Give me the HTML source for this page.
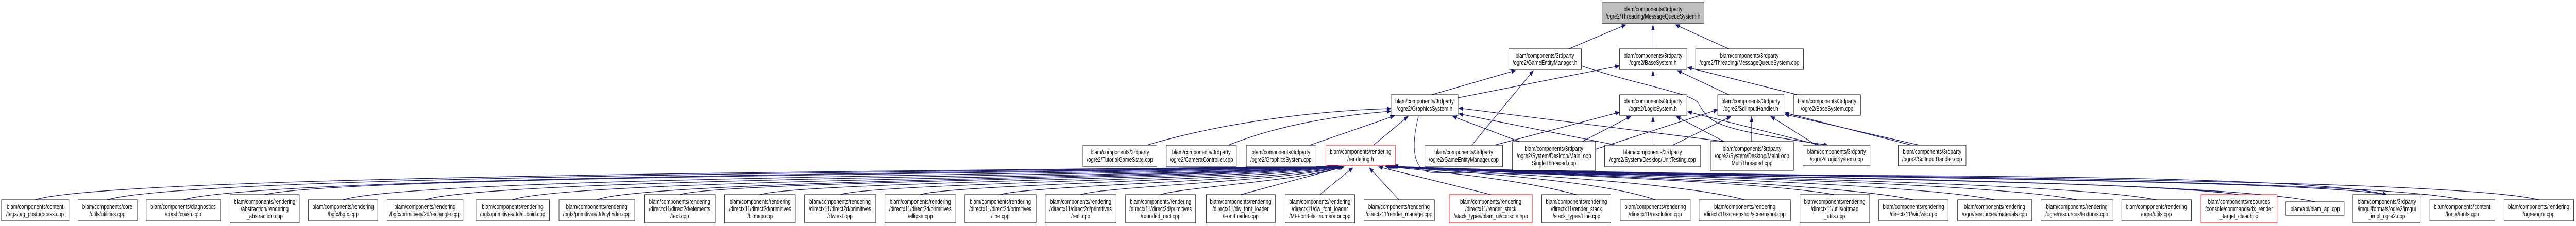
<!DOCTYPE html>
<html><head><meta charset="utf-8"><style>
html,body{margin:0;padding:0;background:#fff;width:100%;height:100%;overflow:hidden;}
svg{display:block;position:fixed;left:0;top:0;width:100vw;height:100vh;}
text{font-family:"Liberation Sans",sans-serif;font-size:13px;fill:#000;text-anchor:middle;}
.b{fill:#fff;stroke:#000;stroke-width:1;}
.e{fill:none;stroke:#191970;stroke-width:1.3;marker-end:url(#a);}
</style></head><body>
<svg viewBox="0 0 6765 439" preserveAspectRatio="none" xmlns="http://www.w3.org/2000/svg">
<defs><marker id="a" markerWidth="12" markerHeight="9" refX="11" refY="4.5" orient="auto" markerUnits="userSpaceOnUse"><path d="M0,0L12,4.5L0,9z" fill="#191970"/></marker></defs>

<path class="e" d="M4120,95 L4270,48"/>
<path class="e" d="M4341,95 L4341,48"/>
<path class="e" d="M4540,95 L4400,48"/>
<path class="e" d="M3760,184 L3980,137"/>
<path class="e" d="M3829,190 L4253,128"/>
<path class="e" d="M4341,184 L4341,137"/>
<path class="e" d="M4540,184 L4405,137"/>
<path class="e" d="M4720,184 L4432,131"/>
<path class="e" d="M3865,282 L4027,137"/>
<path class="e" d="M4153,128 C4300,165 4440,180 4460,200 C4490,240 4500,250 4800,282"/>
<path class="e" d="M3012,282 C3200,240 3450,215 3653,211"/>
<path class="e" d="M3226,282 C3350,245 3500,225 3653,216"/>
<path class="e" d="M3440,282 L3662,225"/>
<path class="e" d="M3607,282 L3698,226"/>
<path class="e" d="M3990,275 L3815,226"/>
<path class="e" d="M4245,282 L3831,221"/>
<path class="e" d="M4530,275 L3831,210"/>
<path class="e" d="M3725,226 C3700,300 3720,333 3760,335 C4500,345 6000,330 6268,378"/>
<path class="e" d="M4155,275 L4283,226"/>
<path class="e" d="M3925,282 L4253,218"/>
<path class="e" d="M4341,282 L4341,226"/>
<path class="e" d="M4528,275 L4402,226"/>
<path class="e" d="M4780,282 L4432,217"/>
<path class="e" d="M4190,290 L4511,213"/>
<path class="e" d="M4393,282 L4546,226"/>
<path class="e" d="M4600,275 L4600,226"/>
<path class="e" d="M4770,282 L4650,226"/>
<path class="e" d="M5040,282 L4687,222"/>
<path class="e" d="M5020,282 L4687,219"/>

<path class="e" d="M92,388 C300,340 2500,332 3497,323"/>
<path class="e" d="M282,388 C500,340 2600,334 3499,323"/>
<path class="e" d="M481,388 C700,342 2700,336 3501,323"/>
<path class="e" d="M695,378 C900,342 2800,338 3503,323"/>
<path class="e" d="M901,388 C1100,344 2900,340 3505,323"/>
<path class="e" d="M1116,388 C1300,346 3000,342 3507,323"/>
<path class="e" d="M1346,388 C1500,348 3100,344 3509,323"/>
<path class="e" d="M1567,388 C1700,350 3150,345 3511,323"/>
<path class="e" d="M1785,378 C1900,352 3200,346 3513,323"/>
<path class="e" d="M1996,378 C2100,354 3250,347 3515,323"/>
<path class="e" d="M2206,378 C2300,356 3300,348 3517,323"/>
<path class="e" d="M2417,378 C2500,358 3350,349 3519,323"/>
<path class="e" d="M2627,378 C2700,360 3400,350 3521,323"/>
<path class="e" d="M2838,378 C2900,362 3420,350 3523,323"/>
<path class="e" d="M3048,378 C3100,364 3440,350 3525,323"/>
<path class="e" d="M3258,378 L3530,324"/>
<path class="e" d="M3466,378 L3553,326"/>
<path class="e" d="M3674,388 L3596,326"/>
<path class="e" d="M3915,378 L3620,324"/>
<path class="e" d="M4140,378 C4000,350 3800,335 3637,323"/>
<path class="e" d="M4347,388 C4200,350 3850,335 3639,323"/>
<path class="e" d="M4582,388 C4400,352 3900,336 3641,323"/>
<path class="e" d="M4818,378 C4600,350 3950,337 3643,323"/>
<path class="e" d="M5025,388 C4800,352 4000,338 3645,323"/>
<path class="e" d="M5238,388 C5000,352 4050,339 3647,323"/>
<path class="e" d="M5454,388 C5200,350 4100,340 3649,323"/>
<path class="e" d="M5663,388 C5400,350 4150,341 3651,323"/>
<path class="e" d="M5880,378 C5600,348 4200,342 3653,323"/>
<path class="e" d="M6080,392 C5800,346 4250,343 3655,323"/>
<path class="e" d="M6268,378 C6000,344 4300,344 3657,323"/>
<path class="e" d="M6466,388 C6200,342 4350,345 3659,323"/>
<path class="e" d="M6667,388 C6400,340 4400,346 3661,323"/>

<rect x="4207" y="5" width="268" height="41" fill="#bfbfbf" stroke="#000"/>
<text x="4341" y="22">blam/components/3rdparty</text><text x="4341" y="36">/ogre2/Threading/MessageQueueSystem.h</text>

<rect class="b" x="3962" y="95" width="191" height="40"/><text x="4057" y="112">blam/components/3rdparty</text><text x="4057" y="126">/ogre2/GameEntityManager.h</text>
<rect class="b" x="4253" y="95" width="177" height="40"/><text x="4341" y="112">blam/components/3rdparty</text><text x="4341" y="126">/ogre2/BaseSystem.h</text>
<rect class="b" x="4453" y="95" width="283" height="40"/><text x="4594" y="112">blam/components/3rdparty</text><text x="4594" y="126">/ogre2/Threading/MessageQueueSystem.cpp</text>

<rect class="b" x="3653" y="184" width="176" height="40"/><text x="3741" y="201">blam/components/3rdparty</text><text x="3741" y="215">/ogre2/GraphicsSystem.h</text>
<rect class="b" x="4253" y="184" width="177" height="40"/><text x="4341" y="201">blam/components/3rdparty</text><text x="4341" y="215">/ogre2/LogicSystem.h</text>
<rect class="b" x="4511" y="184" width="174" height="40"/><text x="4598" y="201">blam/components/3rdparty</text><text x="4598" y="215">/ogre2/SdlInputHandler.h</text>
<rect class="b" x="4710" y="184" width="176" height="40"/><text x="4798" y="201">blam/components/3rdparty</text><text x="4798" y="215">/ogre2/BaseSystem.cpp</text>

<rect class="b" x="2844" y="282" width="194" height="42"/><text x="2941" y="300">blam/components/3rdparty</text><text x="2941" y="314">/ogre2/TutorialGameState.cpp</text>
<rect class="b" x="3063" y="282" width="184" height="42"/><text x="3155" y="300">blam/components/3rdparty</text><text x="3155" y="314">/ogre2/CameraController.cpp</text>
<rect class="b" x="3273" y="282" width="183" height="42"/><text x="3364" y="300">blam/components/3rdparty</text><text x="3364" y="314">/ogre2/GraphicsSystem.cpp</text>
<rect x="3482" y="282" width="183" height="39" fill="#fff" stroke="#ff0000"/><text x="3573" y="299">blam/components/rendering</text><text x="3573" y="313">/rendering.h</text>
<rect class="b" x="3742" y="282" width="204" height="42"/><text x="3844" y="300">blam/components/3rdparty</text><text x="3844" y="314">/ogre2/GameEntityManager.cpp</text>
<rect class="b" x="3972" y="275" width="218" height="56"/><text x="4081" y="293">blam/components/3rdparty</text><text x="4081" y="307">/ogre2/System/Desktop/MainLoop</text><text x="4081" y="321">SingleThreaded.cpp</text>
<rect class="b" x="4214" y="282" width="252" height="42"/><text x="4340" y="300">blam/components/3rdparty</text><text x="4340" y="314">/ogre2/System/Desktop/UnitTesting.cpp</text>
<rect class="b" x="4492" y="275" width="218" height="56"/><text x="4601" y="293">blam/components/3rdparty</text><text x="4601" y="307">/ogre2/System/Desktop/MainLoop</text><text x="4601" y="321">MultiThreaded.cpp</text>
<rect class="b" x="4735" y="282" width="176" height="40"/><text x="4823" y="299">blam/components/3rdparty</text><text x="4823" y="313">/ogre2/LogicSystem.cpp</text>
<rect class="b" x="4985" y="282" width="178" height="40"/><text x="5074" y="299">blam/components/3rdparty</text><text x="5074" y="313">/ogre2/SdlInputHandler.cpp</text>

<rect class="b" x="4" y="388" width="177" height="41"/><text x="92" y="406">blam/components/content</text><text x="92" y="420">/tags/tag_postprocess.cpp</text>
<rect class="b" x="205" y="388" width="155" height="41"/><text x="282" y="406">blam/components/core</text><text x="282" y="420">/utils/utilities.cpp</text>
<rect class="b" x="384" y="388" width="195" height="41"/><text x="481" y="406">blam/components/diagnostics</text><text x="481" y="420">/crash/crash.cpp</text>
<rect class="b" x="604" y="378" width="182" height="55"/><text x="695" y="396">blam/components/rendering</text><text x="695" y="410">/abstraction/rendering</text><text x="695" y="424">_abstraction.cpp</text>
<rect class="b" x="810" y="388" width="182" height="41"/><text x="901" y="406">blam/components/rendering</text><text x="901" y="420">/bgfx/bgfx.cpp</text>
<rect class="b" x="1017" y="388" width="199" height="41"/><text x="1116" y="406">blam/components/rendering</text><text x="1116" y="420">/bgfx/primitives/2d/rectangle.cpp</text>
<rect class="b" x="1250" y="388" width="193" height="41"/><text x="1346" y="406">blam/components/rendering</text><text x="1346" y="420">/bgfx/primitives/3d/cuboid.cpp</text>
<rect class="b" x="1468" y="388" width="199" height="41"/><text x="1567" y="406">blam/components/rendering</text><text x="1567" y="420">/bgfx/primitives/3d/cylinder.cpp</text>
<rect class="b" x="1692" y="378" width="186" height="55"/><text x="1785" y="396">blam/components/rendering</text><text x="1785" y="410">/directx11/direct2d/elements</text><text x="1785" y="424">/text.cpp</text>
<rect class="b" x="1903" y="378" width="186" height="55"/><text x="1996" y="396">blam/components/rendering</text><text x="1996" y="410">/directx11/direct2d/primitives</text><text x="1996" y="424">/bitmap.cpp</text>
<rect class="b" x="2113" y="378" width="187" height="55"/><text x="2206" y="396">blam/components/rendering</text><text x="2206" y="410">/directx11/direct2d/primitives</text><text x="2206" y="424">/dwtext.cpp</text>
<rect class="b" x="2324" y="378" width="186" height="55"/><text x="2417" y="396">blam/components/rendering</text><text x="2417" y="410">/directx11/direct2d/primitives</text><text x="2417" y="424">/ellipse.cpp</text>
<rect class="b" x="2534" y="378" width="187" height="55"/><text x="2627" y="396">blam/components/rendering</text><text x="2627" y="410">/directx11/direct2d/primitives</text><text x="2627" y="424">/line.cpp</text>
<rect class="b" x="2745" y="378" width="186" height="55"/><text x="2838" y="396">blam/components/rendering</text><text x="2838" y="410">/directx11/direct2d/primitives</text><text x="2838" y="424">/rect.cpp</text>
<rect class="b" x="2956" y="378" width="184" height="55"/><text x="3048" y="396">blam/components/rendering</text><text x="3048" y="410">/directx11/direct2d/primitives</text><text x="3048" y="424">/rounded_rect.cpp</text>
<rect class="b" x="3168" y="378" width="181" height="55"/><text x="3258" y="396">blam/components/rendering</text><text x="3258" y="410">/directx11/dw_font_loader</text><text x="3258" y="424">/FontLoader.cpp</text>
<rect class="b" x="3375" y="378" width="183" height="55"/><text x="3466" y="396">blam/components/rendering</text><text x="3466" y="410">/directx11/dw_font_loader</text><text x="3466" y="424">/MFFontFileEnumerator.cpp</text>
<rect class="b" x="3582" y="388" width="185" height="41"/><text x="3674" y="406">blam/components/rendering</text><text x="3674" y="420">/directx11/render_manage.cpp</text>
<rect x="3806" y="378" width="218" height="55" fill="#fff" stroke="#ff0000"/><text x="3915" y="396">blam/components/rendering</text><text x="3915" y="410">/directx11/render_stack</text><text x="3915" y="424">/stack_types/blam_ui/console.hpp</text>
<rect class="b" x="4049" y="378" width="181" height="55"/><text x="4140" y="396">blam/components/rendering</text><text x="4140" y="410">/directx11/render_stack</text><text x="4140" y="424">/stack_types/Line.cpp</text>
<rect class="b" x="4255" y="388" width="184" height="41"/><text x="4347" y="406">blam/components/rendering</text><text x="4347" y="420">/directx11/resolution.cpp</text>
<rect class="b" x="4462" y="388" width="240" height="41"/><text x="4582" y="406">blam/components/rendering</text><text x="4582" y="420">/directx11/screenshot/screenshot.cpp</text>
<rect class="b" x="4727" y="378" width="183" height="55"/><text x="4818" y="396">blam/components/rendering</text><text x="4818" y="410">/directx11/utils/bitmap</text><text x="4818" y="424">_utils.cpp</text>
<rect class="b" x="4934" y="388" width="182" height="41"/><text x="5025" y="406">blam/components/rendering</text><text x="5025" y="420">/directx11/wic/wic.cpp</text>
<rect class="b" x="5141" y="388" width="195" height="41"/><text x="5238" y="406">blam/components/rendering</text><text x="5238" y="420">/ogre/resources/materials.cpp</text>
<rect class="b" x="5360" y="388" width="189" height="41"/><text x="5454" y="406">blam/components/rendering</text><text x="5454" y="420">/ogre/resources/textures.cpp</text>
<rect class="b" x="5572" y="388" width="183" height="41"/><text x="5663" y="406">blam/components/rendering</text><text x="5663" y="420">/ogre/utils.cpp</text>
<rect x="5780" y="378" width="200" height="55" fill="#fff" stroke="#ff0000"/><text x="5880" y="396">blam/components/resources</text><text x="5880" y="410">/console/commands/dx_render</text><text x="5880" y="424">_target_clear.hpp</text>
<rect class="b" x="6003" y="392" width="153" height="26"/><text x="6080" y="410">blam/api/blam_api.cpp</text>
<rect class="b" x="6179" y="378" width="177" height="55"/><text x="6268" y="396">blam/components/3rdparty</text><text x="6268" y="410">/imgui/formats/ogre2/imgui</text><text x="6268" y="424">_impl_ogre2.cpp</text>
<rect class="b" x="6381" y="388" width="171" height="41"/><text x="6466" y="406">blam/components/content</text><text x="6466" y="420">/fonts/fonts.cpp</text>
<rect class="b" x="6576" y="388" width="183" height="41"/><text x="6667" y="406">blam/components/rendering</text><text x="6667" y="420">/ogre/ogre.cpp</text>
</svg>
</body></html>
